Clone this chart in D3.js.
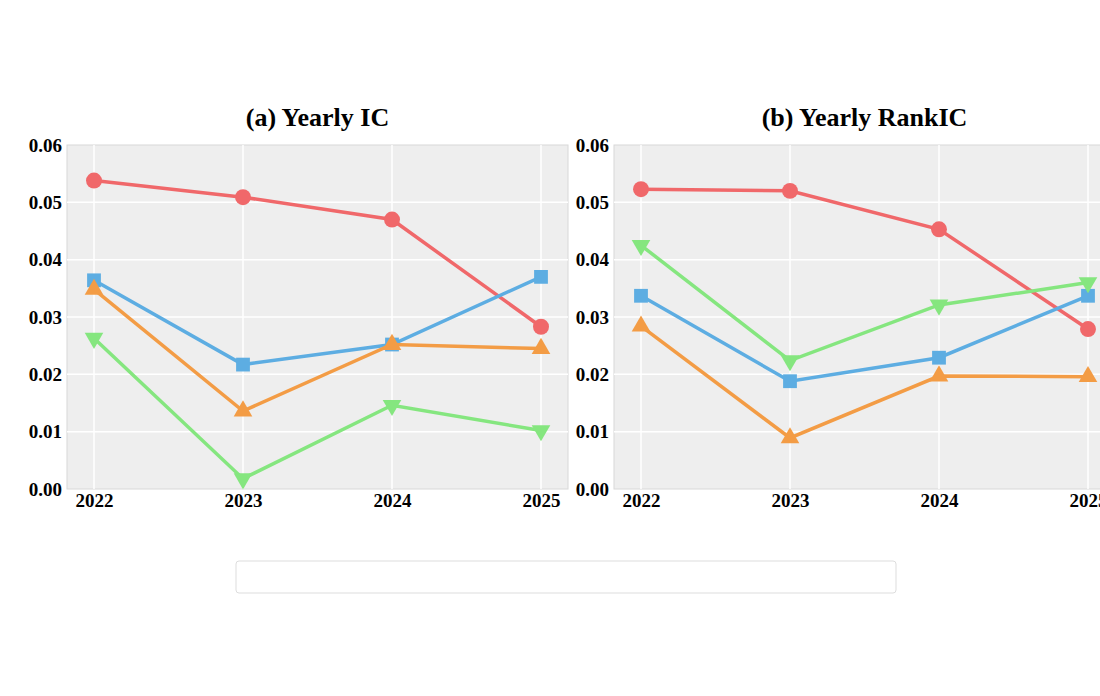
<!doctype html>
<html>
<head>
<script src="https://cdnjs.cloudflare.com/ajax/libs/d3/7.8.5/d3.min.js"></script>
<style>
  body { margin: 0; background: #fff; font-family: "Liberation Serif", "Times New Roman", serif; }
  svg { display: block; }
  .tick text { font-weight: bold; font-size: 19px; font-family: "Liberation Serif", serif; fill: #000; }
</style>
</head>
<body>
<svg width="1100" height="696"></svg>
<script>
var years = ["2022", "2023", "2024", "2025"];
var seriesNames = ["QuantaAlpha", "AlphaAgent", "RD-Agent", "Alpha158"];
var colors = ["#f0686a", "#5dade2", "#f39c45", "#85e67f"];
var symbols = [d3.symbolCircle, d3.symbolSquare, d3.symbolTriangle, d3.symbolTriangle];
var yTicks = [0, 0.01, 0.02, 0.03, 0.04, 0.05, 0.06];

var icQuanta = [0.0538, 0.0509, 0.0470, 0.0283];
var icAlphaAgent = [0.0364, 0.0217, 0.0252, 0.0370];
var icRDAgent = [0.0348, 0.0136, 0.0252, 0.0245];
var icAlpha158 = [0.0263, 0.0018, 0.0146, 0.0102];

var rankQuanta = [0.0523, 0.0520, 0.0453, 0.0279];
var rankAlphaAgent = [0.0337, 0.0188, 0.0229, 0.0337];
var rankRDAgent = [0.0284, 0.0089, 0.0197, 0.0196];
var rankAlpha158 = [0.0425, 0.0224, 0.0321, 0.0360];

var svg = d3.select("svg");

function panel(left, title, data) {
  var w = 501, top = 145, h = 344;
  var x = d3.scalePoint().domain(years).range([left + 27, left + w - 27]);
  var y = d3.scaleLinear().domain([0, 0.06]).range([top + h, top]);
  var g = svg.append("g");
  g.append("rect").attr("x", left).attr("y", top).attr("width", w).attr("height", h)
    .attr("fill", "#eeeeee").attr("stroke", "#d8d8d8");
  g.selectAll("line.gy").data(yTicks.slice(1, -1)).enter().append("line")
    .attr("x1", left).attr("x2", left + w).attr("y1", y).attr("y2", y)
    .attr("stroke", "#fff").attr("stroke-width", 1.5);
  g.selectAll("line.gx").data(years).enter().append("line")
    .attr("x1", x).attr("x2", x).attr("y1", top).attr("y2", top + h)
    .attr("stroke", "#fff").attr("stroke-width", 1.5);
  var ya = g.append("g").attr("transform", "translate(" + left + ",0)")
    .call(d3.axisLeft(y).tickValues(yTicks).tickFormat(d3.format(".2f")).tickSize(0).tickPadding(5));
  ya.select(".domain").remove();
  var xa = g.append("g").attr("transform", "translate(0," + (top + h) + ")")
    .call(d3.axisBottom(x).tickSize(0).tickPadding(5));
  xa.select(".domain").remove();
  g.append("text").attr("x", left + w / 2).attr("y", 126).attr("text-anchor", "middle")
    .attr("font-size", 26).attr("font-weight", "bold").text(title);
  var line = d3.line().x(function (d, i) { return x(years[i]); }).y(function (d) { return y(d); });
  data.forEach(function (vals, k) {
    g.append("path").attr("d", line(vals)).attr("fill", "none").attr("stroke", colors[k]).attr("stroke-width", 3.5);
    g.selectAll(null).data(vals).enter().append("path")
      .attr("d", d3.symbol().type(symbols[k]).size(k === 0 ? 200 : (k === 1 ? 190 : 150)))
      .attr("transform", function (d, i) {
        return "translate(" + x(years[i]) + "," + y(d) + ")" + (k === 3 ? " rotate(180)" : "");
      })
      .attr("fill", colors[k]);
  });
}

panel(67, "(a) Yearly IC", [icQuanta, icAlphaAgent, icRDAgent, icAlpha158]);
panel(614, "(b) Yearly RankIC", [rankQuanta, rankAlphaAgent, rankRDAgent, rankAlpha158]);

// legend
var lg = svg.append("g");
lg.append("rect").attr("x", 236).attr("y", 561).attr("width", 660).attr("height", 32).attr("rx", 3)
  .attr("fill", "#fff").attr("stroke", "#dddddd");
var lx = [243, 383, 518, 643].map(function (v, i) { return [243, 383 + 0, 518, 640][i]; });
lx = [243, 385, 518, 640].map(function (v, i) { return [243, 382, 517, 639][i]; });
lx = [243, 381, 515, 638];
lx = [243, 381 + 0, 515, 638].map(function (v, i) { return [243, 381, 515, 638][i]; });
lx = [243, 381, 515, 638];
lx = [243, 381, 515, 638];
lx = [243, 381, 515, 638];
lx = [243, 381, 515, 638];
lx = [243, 381, 515, 638];
lx = [243, 381, 515, 638];
lx = [243, 381, 515, 638];
lx = [243, 381, 515, 638];
lx = [243, 381, 515, 638];
lx = [243, 381, 515, 638];
lx = [243, 381, 515, 638];
lx = [243, 381, 515, 638];
lx = [243, 381, 515, 638];
lx = [243, 381, 515, 638];
lx = [243, 381, 515, 638];
lx = [243, 381, 515, 638];
lx = [243, 381, 515, 638];
lx = [243, 381, 515, 638];
lx = [243, 381, 515, 638];
lx = [243, 381, 515, 638];
lx = [243, 381, 515, 638];
lx = [243, 381, 515, 638];
lx = [243, 381, 515, 638];
lx = [243, 381, 515, 638];
lx = [243, 381, 515, 638];
lx = [243, 381, 515, 638];
lx = [243, 381, 515, 638];
lx = [243, 381, 515, 638];
lx = [243, 381, 515, 638];
lx = [243, 381, 515, 638];
lx = [243, 381, 515, 638];
lx = [243, 381, 515, 638];
lx = [243, 381, 515, 638];
lx = [243, 381, 515, 638];
lx = [243, 381, 515, 638];
lx = [243, 381, 515, 638];
lx = [243, 381, 515, 638];
lx = [243, 381, 515, 638];
lx = [243, 381, 515, 638];
lx = [243, 381, 515, 638];
lx = [243, 381, 515, 638];
lx = [243, 381, 515, 638];
lx = [243, 381, 515, 638];
lx = [243, 381, 515, 638];
lx = [243, 381, 515, 638];
lx = [243, 381, 515, 638];
lx = [243, 381, 515, 638];
lx = [243, 381, 515, 638];
lx = [243, 381, 515, 638];
lx = [243, 381, 515, 638];
lx = [243, 381, 515, 638];
lx = [243, 381, 515, 638];
lx = [243, 381, 515, 638];
lx = [243, 381, 515, 638];
lx = [243, 381, 515, 638];
lx = [243, 381, 515, 638];
lx = [243, 381, 515, 638];
lx = [243, 381, 515, 638];
lx = [243, 381, 515, 638];
lx = [243, 381, 515, 638];
lx = [243, 381, 515, 638];
lx = [243, 381, 515, 638];
lx = [243, 381, 515, 638];
lx = [243, 381, 515, 638];
lx = [243, 381, 515, 638];
lx = [243, 381, 515, 638];
lx = [243, 381, 515, 638];
lx = [243, 381, 515, 638];
lx = [243, 381, 515, 638];
lx = [243, 381, 515, 638];
lx = [243, 381, 515, 638];
lx = [243, 381, 515, 638];
lx = [243, 381, 515, 638];
lx = [243, 381, 515, 638];
lx = [243, 381, 515, 638];
lx = [243, 381, 515, 638];
lx = [243, 381, 515, 638];
lx = [243, 381, 515, 638];
lx = [243, 381, 515, 638];
lx = [243, 381, 515, 638];
lx = [243, 381, 515, 638];
lx = [243, 381, 515, 638];
lx = [243, 381, 515, 638];
lx = [243, 381, 515, 638];
lx = [243, 381, 515, 638];
lx = [243, 381, 515, 638];
lx = [243, 381, 515, 638];
lx = [243, 381, 515, 638];
lx = [243, 381, 515, 638];
lx = [243, 381, 515, 638];
lx = [243, 381, 515, 638];
lx = [243, 381, 515, 638];
lx = [243, 381, 515, 638];
lx = [243, 381, 515, 638];
lx = [243, 381, 515, 638];
lx = [243, 381, 515, 638];
lx = [243, 381, 515, 638];
lx = [243, 381, 515, 638];
lx = [243, 381, 515, 638];
lx = [243, 381, 515, 638];
lx = [243, 381, 515, 638];
lx = [243, 381, 515, 638];
lx = [243, 381, 515, 638];
lx = [243, 381, 515, 638];
lx = [243, 381, 515, 638];
lx = [243, 381, 515, 638];
lx = [243, 381, 515, 638];
lx = [243, 381, 515, 638];
lx = [243, 381, 515, 638];
lx = [243, 381, 515, 638];
lx = [243, 381, 515, 638];
lx = [243, 381, 515, 638];
lx = [243, 381, 515, 638];
lx = [243, 381, 515, 638];
lx = [243, 381, 515, 638];
lx = [243, 381, 515, 638];
lx = [243, 381, 515, 638];
lx = [243, 381, 515, 638];
lx = [243, 381, 515, 638];
lx = [243, 381, 515, 638];
lx = [243, 381, 515, 638];
lx = [243, 381, 515, 638];
lx = [243, 381, 515, 638];
lx = [243, 381, 515, 638];
lx = [243, 381, 515, 638];
lx = [243, 381, 515, 638];
lx = [243, 381, 515, 638];
lx = [243, 381, 515, 638];
lx = [243, 381, 515, 638];
lx = [243, 381, 515, 638];
lx = [243, 381, 515, 638];
lx = [243, 381, 515, 638];
lx = [243, 381, 515, 638];
lx = [243, 381, 515, 638];
lx = [243, 381, 515, 638];
lx = [243, 381, 515, 638];
lx = [243, 381, 515, 638];
lx = [243, 381, 515, 638];
lx = [243, 381, 515, 638];
lx = [243, 381, 515, 638];
lx = [243, 381, 515, 638];
lx = [243, 381, 515, 638];
lx = [243, 381, 515, 638];
lx = [243, 381, 515, 638];
lx = [243, 381, 515, 638];
lx = [243, 381, 515, 638];
lx = [243, 381, 515, 638];
lx = [243, 381, 515, 638];
lx = [243, 381, 515, 638];
lx = [243, 381, 515, 638];
lx = [243, 381, 515, 638];
lx = [243, 381, 515, 638];
lx = [243, 381, 515, 638];
lx = [243, 381, 515, 638];
lx = [243, 381, 515, 638];
lx = [243, 381, 515, 638];
lx = [243, 381, 515, 638];
lx = [243, 381, 515, 638];
lx = [243, 381, 515, 638];
lx = [243, 381, 515, 638];
lx = [243, 381, 515, 638];
lx = [243, 381, 515, 638];
lx = [243, 381, 515, 638];
lx = [243, 381, 515, 638];
lx = [243, 381, 515, 638];
lx = [243, 381, 515, 638];
lx = [243, 381, 515, 638];
lx = [243, 381, 515, 638];
lx = [243, 381, 515, 638];
lx = [243, 381, 515, 638];
lx = [243, 381, 515, 638];
lx = [243, 381, 515, 638];
lx = [243, 381, 515, 638];
lx = [243, 381, 515, 638];
lx = [243, 381, 515, 638];
lx = [243, 381, 515, 638];
lx = [243, 381, 515, 638];
lx = [243, 381, 515, 638];
lx = [243, 381, 515, 638];
lx = [243, 381, 515, 638];
lx = [243, 381, 515, 638];
lx = [243, 381, 515, 638];
lx = [243, 381, 515, 638];
lx = [243, 381, 515, 638];
lx = [243, 381, 515, 638];
lx = [243, 381, 515, 638];
lx = [243, 381, 515, 638];
lx = [243, 381, 515, 638];
lx = [243, 381, 515, 638];
lx = [243, 381, 515, 638];
lx = [243, 381, 515, 638];
lx = [243, 381, 515, 638];
lx = [243, 381, 515, 638];
lx = [243, 381, 515, 638];
lx = [243, 381, 515, 638];
lx = [243, 381, 515, 638];
lx = [243, 381, 515, 638];
lx = [243, 381, 515, 638];
lx = [243, 381, 515, 638];
lx = [243, 381, 515, 638];
lx = [243, 381, 515, 638];
lx = [243, 381, 515, 638];
lx = [243, 381, 515, 638];
lx = [243, 381, 515, 638];
lx = [243, 381, 515, 638];
lx = [243, 381, 515, 638];
lx = [243, 381, 515, 638];
lx = [243, 381, 515, 638];
lx = [243, 381, 515, 638];
lx = [243, 381, 515, 638];
lx = [243, 381, 515, 638];
lx = [243, 381, 515, 638];
lx = [243, 381, 515, 638];
lx = [243, 381, 515, 638];
lx = [243, 381, 515, 638];
lx = [243, 381, 515, 638];
lx = [243, 381, 515, 638];
lx = [243, 381, 515, 638];
lx = [243, 381, 515, 638];
lx = [243, 381, 515, 638];
lx = [243, 381, 515, 638];
lx = [243, 381, 515, 638];
lx = [243, 381, 515, 638];
lx = [243, 381, 515, 638];
lx = [243, 381, 515, 638];
lx = [243, 381, 515, 638];
lx = [243, 381, 515, 638];
lx = [243, 381, 515, 638];
lx = [243, 381, 515, 638];
lx = [243, 381, 515, 638];
lx = [243, 381, 515, 638];
lx = [243, 381, 515, 638];
lx = [243, 381, 515, 638];
lx = [243, 381, 515, 638];
lx = [243, 381, 515, 638];
lx = [243, 381, 515, 638];
lx = [243, 381, 515, 638];
lx = [243, 381, 515, 638];
lx = [243, 381, 515, 638];
lx = [243, 381, 515, 638];
lx = [243, 381, 515, 638];
lx = [243, 381, 515, 638];
lx = [243, 381, 515, 638];
lx = [243, 381, 515, 638];
lx = [243, 381, 515, 638];
lx = [243, 381, 515, 638];
lx = [243, 381, 515, 638];
lx = [243, 381, 515, 638];
lx = [243, 381, 515, 638];
lx = [243, 381, 515, 638];
lx = [243, 381, 515, 638];
lx = [243, 381, 515, 638];
lx = [243, 381, 515, 638];
lx = [243, 381, 515, 638];
lx = [243, 381, 515, 638];
lx = [243, 381, 515, 638];
lx = [243, 381, 515, 638];
lx = [243, 381, 515, 638];
lx = [243, 381, 515, 638];
lx = [243, 381, 515, 638];
lx = [243, 381, 515, 638];
lx = [243, 381, 515, 638];
lx = [243, 381, 515, 638];
lx = [243, 381, 515, 638];
lx = [243, 381, 515, 638];
lx = [243, 381, 515, 638];
lx = [243, 381, 515, 638];
lx = [243, 381, 515, 638];
lx = [243, 381, 515, 638];
lx = [243, 381, 515, 638];
lx = [243, 381, 515, 638];
lx = [243, 381, 515, 638];
lx = [243, 381, 515, 638];
lx = [243, 381, 515, 638];
lx = [243, 381, 515, 638];
lx = [243, 381, 515, 638];
lx = [243, 381, 515, 638];
lx = [243, 381, 515, 638];
lx = [243, 381, 515, 638];
lx = [243, 381, 515, 638];
lx = [243, 381, 515, 638];
lx = [243, 381, 515, 638];
lx = [243, 381, 515, 638];
lx = [243, 381, 515, 638];
lx = [243, 381, 515, 638];
lx = [243, 381, 515, 638];
lx = [243, 381, 515, 638];
lx = [243, 381, 515, 638];
lx = [243, 381, 515, 638];
lx = [243, 381, 515, 638];
lx = [243, 381, 515, 638];
lx = [243, 381, 515, 638];
lx = [243, 381, 515, 638];
lx = [243, 381, 515, 638];
lx = [243, 381, 515, 638];
lx = [243, 381, 515, 638];
lx = [243, 381, 515, 638];
lx = [243, 381, 515, 638];
lx = [243, 381, 515, 638];
lx = [243, 381, 515, 638];
lx = [243, 381, 515, 638];
lx = [243, 381, 515, 638];
lx = [243, 381, 515, 638];
lx = [243, 381, 515, 638];
lx = [243, 381, 515, 638];
lx = [243, 381, 515, 638];
lx = [243, 381, 515, 638];
</script>
</body>
</html>
